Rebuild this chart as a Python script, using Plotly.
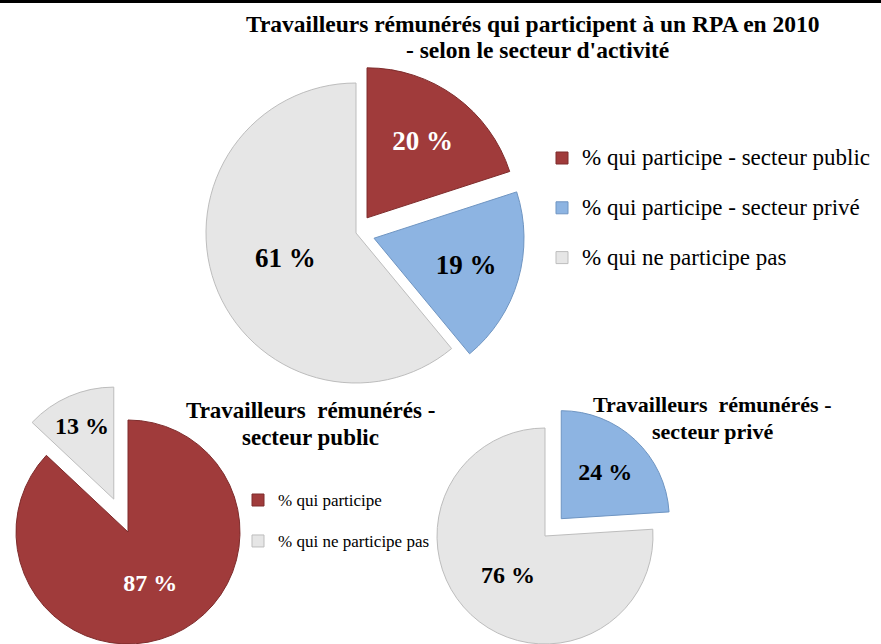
import math
import plotly.graph_objects as go

# ---------------- data ----------------
top_labels = ["% qui participe - secteur public",
              "% qui participe - secteur privé",
              "% qui ne participe pas"]
top_values = [20, 19, 61]

public_labels = ["% qui participe", "% qui ne participe pas"]
public_values = [87, 13]

private_labels = ["% qui participe", "% qui ne participe pas"]
private_values = [24, 76]

title_top = ["Travailleurs rémunérés qui participent à un RPA en 2010",
             "- selon le secteur d'activité"]
title_public = ["Travailleurs\u00a0 rémunérés -", "secteur public"]
title_private = ["Travailleurs\u00a0 rémunérés -", "secteur privé"]

# ---------------- style ----------------
W, H = 881, 644
FONT = "Liberation Serif"
RED, BLUE, GRAY = "#A03B3B", "#8DB4E2", "#E6E6E6"
RED_EDGE, BLUE_EDGE, GRAY_EDGE = "#7E2C2C", "#6F95C2", "#BDBDBD"
CLEAR = "rgba(0,0,0,0)"
TEMPLATE = "<b>%{value} %</b>"


def domain(cx, cy, half):
    return dict(x=[max(0, (cx - half) / W), min(1, (cx + half) / W)],
                y=[max(0, (H - cy - half) / H), min(1, (H - cy + half) / H)])


def mid_angle(values, i):
    total = float(sum(values))
    start = sum(values[:i]) / total * 2 * math.pi
    return start + values[i] / total * math.pi


def legend_label(text, size):
    return "<span style='font-size:%spx'>%s</span><br>\u00a0" % (size, text)


def legend_top(sym_y, font_size):
    L = 1.3 * font_size
    return 1 - (sym_y - (6.5 + L / 2)) / H


fig = go.Figure()

# ---- top pie (single trace, pulled slices) ----
TOP_R, TOP_PULL = 150, 0.125
fig.add_trace(go.Pie(
    values=top_values,
    labels=[legend_label(l, 23) for l in top_labels],
    sort=False, direction="clockwise", rotation=0,
    pull=[TOP_PULL, TOP_PULL, 0],
    domain=domain(356, 233, TOP_R * (1 + TOP_PULL)),
    marker=dict(colors=[RED, BLUE, GRAY],
                line=dict(color=[RED_EDGE, BLUE_EDGE, GRAY_EDGE], width=1)),
    texttemplate=TEMPLATE, textposition="inside",
    insidetextorientation="horizontal",
    textfont=dict(family=FONT, size=27, color=["white", "black", "black"]),
    hoverinfo="skip", legend="legend", showlegend=True,
))


def split_pie(values, labels, colors, edges, text_colors, base_idx, pulled_idx,
              center, r, pull, legend, text_size, legend_size):
    cx, cy = center
    a = mid_angle(values, pulled_idx)
    off = pull * r
    pc = (cx + off * math.sin(a), cy - off * math.cos(a))
    for idx, (px, py) in ((base_idx, (cx, cy)), (pulled_idx, pc)):
        show = [i == idx for i in range(len(values))]
        fig.add_trace(go.Pie(
            values=values, labels=labels,
            sort=False, direction="clockwise", rotation=0,
            domain=domain(px, py, r),
            marker=dict(colors=[c if s else CLEAR for c, s in zip(colors, show)],
                        line=dict(color=[e if s else CLEAR for e, s in zip(edges, show)],
                                  width=[1 if s else 0 for s in show])),
            texttemplate=[TEMPLATE if s else "" for s in show],
            textposition="inside", insidetextorientation="horizontal",
            textfont=dict(family=FONT, size=text_size, color=text_colors),
            hoverinfo="skip", showlegend=False,
        ))
    # legend entries for this pie
    fig.add_trace(go.Pie(
        values=values, labels=[legend_label(l, legend_size) for l in labels],
        sort=False, direction="clockwise",
        domain=dict(x=[0.9995, 1], y=[0.9995, 1]),
        marker=dict(colors=colors, line=dict(color=edges, width=1)),
        textinfo="none", hoverinfo="skip", showlegend=True, legend=legend,
    ))


split_pie(public_values, public_labels, [RED, GRAY], [RED_EDGE, GRAY_EDGE],
          ["white", "black"], 0, 1, (128, 532), 112, 0.32, "legend2", 24, 17)
split_pie(private_values, private_labels, [BLUE, GRAY], [BLUE_EDGE, GRAY_EDGE],
          ["black", "black"], 1, 0, (545, 536), 108, 0.22, "legend3", 24, 17)

# ---- titles ----
annotations = []
for text, x, y, size in [
    (title_top[0], 533, 24, 23.5), (title_top[1], 537, 50, 23.5),
    (title_public[0], 310, 410, 23), (title_public[1], 310, 437, 23),
    (title_private[0], 712, 404, 22), (title_private[1], 712, 431, 22),
]:
    annotations.append(dict(text="<b>%s</b>" % text, x=x / W, y=1 - y / H,
                            xref="paper", yref="paper", xanchor="center",
                            yanchor="middle", showarrow=False,
                            font=dict(family=FONT, size=size, color="black")))

leg_common = dict(xanchor="left", yanchor="top", valign="top",
                  bgcolor="rgba(0,0,0,0)", traceorder="normal")

fig.update_layout(
    width=W, height=H, margin=dict(l=0, r=0, t=0, b=0),
    paper_bgcolor="white", plot_bgcolor="white",
    annotations=annotations,
    legend=dict(x=542 / W, y=legend_top(158, 18), font=dict(family=FONT, size=18, color="black"), **leg_common),
    legend2=dict(x=238 / W, y=legend_top(500, 14.6), font=dict(family=FONT, size=14.6, color="black"), **leg_common),
    legend3=dict(x=662 / W, y=legend_top(502, 14.6), font=dict(family=FONT, size=14.6, color="black"), **leg_common),
    shapes=[dict(type="rect", xref="paper", yref="paper", x0=0, x1=1,
                 y0=1 - 3 / H, y1=1, fillcolor="black", line=dict(width=0))],
)

fig.write_html("out.html")
